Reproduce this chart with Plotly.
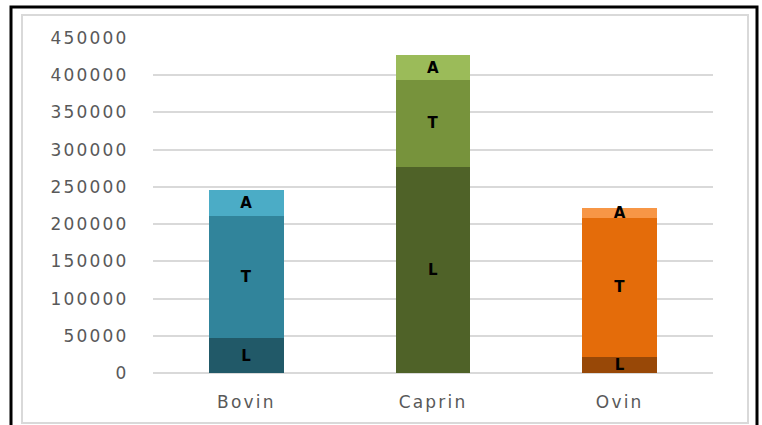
import plotly.graph_objects as go

# Categories and stacked segment values (L at bottom, T in middle, A on top)
categories = ["Bovin", "Caprin", "Ovin"]
segments = ["L", "T", "A"]
values_L = [47000, 277000, 22000]
values_T = [164000, 116500, 186000]
values_A = [35000, 33500, 13500]
y_ticks = [0, 50000, 100000, 150000, 200000, 250000, 300000, 350000, 400000, 450000]

# Per-category shades, darkest for L and lightest for A
colors_L = ["#215968", "#4F6228", "#984807"]
colors_T = ["#31849B", "#77933C", "#E46C0A"]
colors_A = ["#4BACC6", "#9BBB59", "#F79646"]

W, H = 762, 425
M_L, M_R, M_T, M_B = 153, 49, 38, 52
plot_w = W - M_L - M_R
plot_h = H - M_T - M_B


def px_x(p):
    return (p - M_L) / plot_w


def px_y(p):
    return (H - M_B - p) / plot_h


fig = go.Figure()
for name, vals, cols in [("L", values_L, colors_L), ("T", values_T, colors_T), ("A", values_A, colors_A)]:
    fig.add_trace(go.Bar(
        x=categories,
        y=vals,
        name=name,
        marker=dict(color=cols, line=dict(width=0)),
        text=[name] * len(vals),
        textposition="inside",
        insidetextanchor="middle",
        textangle=0,
        textfont=dict(family="DejaVu Sans", size=15, color="black", weight="bold"),
        hoverinfo="skip",
    ))

fig.update_layout(
    barmode="stack",
    bargap=0.6,
    width=W,
    height=H,
    margin=dict(l=M_L, r=M_R, t=M_T, b=M_B),
    paper_bgcolor="white",
    plot_bgcolor="white",
    showlegend=False,
    uniformtext=dict(minsize=15, mode="show"),
    font=dict(family="DejaVu Sans", color="#595959"),
    xaxis=dict(
        showgrid=False,
        showline=False,
        ticks="outside",
        ticklen=14,
        tickcolor="rgba(0,0,0,0)",
        tickfont=dict(size=17, color="#595959"),
    ),
    yaxis=dict(
        range=[0, 450000],
        tickvals=y_ticks,
        ticktext=[str(v) for v in y_ticks],
        showgrid=True,
        gridcolor="#D9D9D9",
        gridwidth=2,
        zeroline=True,
        zerolinecolor="#D9D9D9",
        zerolinewidth=2,
        showline=False,
        ticks="outside",
        ticklen=20,
        tickcolor="rgba(0,0,0,0)",
        tickfont=dict(size=17, color="#595959"),
    ),
    shapes=[
        dict(type="rect", xref="paper", yref="paper",
             x0=px_x(22), x1=px_x(748), y0=px_y(423), y1=px_y(15),
             line=dict(color="#D9D9D9", width=2), fillcolor="rgba(0,0,0,0)", layer="below"),
        dict(type="rect", xref="paper", yref="paper",
             x0=px_x(11), x1=px_x(757), y0=px_y(440), y1=px_y(7),
             line=dict(color="black", width=3), fillcolor="rgba(0,0,0,0)", layer="above"),
    ],
)

# Wider tracking on the axis tick labels
tracking_js = (
    "var s=document.createElement('style');"
    "s.textContent='.xtick text,.ytick text{letter-spacing:2.2px}';"
    "document.head.appendChild(s);"
)

fig.write_html("out.html", post_script=tracking_js)
